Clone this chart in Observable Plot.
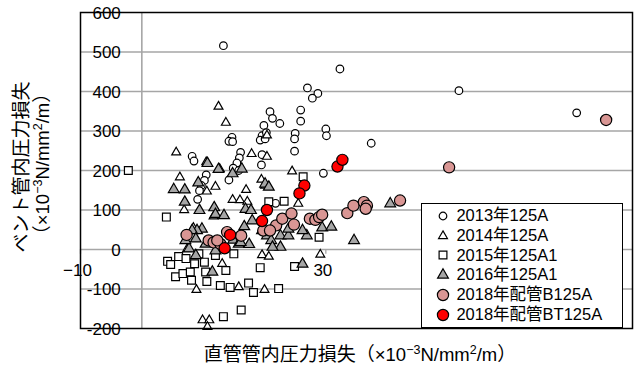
<!DOCTYPE html>
<html>
<head>
<meta charset="utf-8">
<script src="https://cdn.jsdelivr.net/npm/d3@7"></script>
<script src="https://cdn.jsdelivr.net/npm/@observablehq/plot@0.6"></script>
<style>
  body { margin: 0; background: #fff; }
  #chart { width: 637px; height: 367px; position: relative; }
  .legend {
    position: absolute; left: 421.4px; top: 203.4px; width: 201.7px; height: 124.7px;
    box-sizing: border-box; border: 1.2px solid #000; background: #fff;
  }
  .legend-row {
    position: absolute; left: 0; height: 19.7px; line-height: 19.7px; white-space: nowrap;
    font-family: 'Liberation Sans', 'Noto Sans CJK JP', sans-serif; font-size: 16.5px; color: #000;
  }
  .legend-row svg { position: absolute; left: 12.6px; top: 1.85px; overflow: visible; }
  .legend-row .label { position: absolute; left: 34px; top: 0; height: 19.7px; overflow: visible; }
</style>
</head>
<body>
<div id="chart"></div>
<script>
// Measured pressure loss: straight pipe (x) vs. vent pipe (y), ×10^-3 N/mm²/m
const s2013 = [[13.3,516],[32.3,457],[51.7,402],[70.9,346],[27.0,409],[28.7,395],[27.8,383],[20.9,349],[25.9,353],[21.3,332],[22.5,319],[19.9,314],[25.9,325],[30.0,305],[30.1,288],[25.0,294],[24.9,280],[24.9,249],[37.4,269],[19.6,288],[19.3,277],[20.1,280],[20.3,296],[19.6,240],[19.5,214],[14.7,284],[14.2,274],[14.8,273],[16.1,246],[15.9,232],[15.5,219],[14.9,206],[15.8,200],[8.2,236],[8.5,224],[10.5,189],[10.2,175],[9.7,162],[9.4,149],[9.1,127],[14.2,176],[29.6,193],[21.8,117]];
const s2014 = [[12.5,362],[13.7,321],[5.6,246],[10.5,221],[17.9,242],[20.4,235],[12.7,204],[6.2,183],[12.0,159],[10.6,147],[17.0,151],[19.5,177],[20.1,162],[14.8,126],[16.0,125],[17.2,121],[6.9,100],[11.7,84],[24.5,198],[25.5,116],[29.1,-13],[8.9,-102],[9.9,-179],[11.0,-179],[10.7,-196],[20.0,-102],[15.8,-95],[13.1,-36],[19.6,-14],[20.7,-18],[7.4,2],[8.4,55],[20.4,289]];
const s2015 = [[-2.2,200],[4.0,82],[4.2,-30],[4.7,-38],[6.0,-18],[7.2,-23],[5.5,-69],[6.7,-61],[7.9,-57],[8.1,-78],[8.6,-36],[10.2,-32],[10.4,-57],[10.6,-81],[12.8,-91],[13.7,-53],[14.4,-96],[17.4,-85],[18.2,-109],[22.3,-99],[19.3,-46],[24.9,-43],[13.3,-170],[16.2,-153],[20.7,121],[23.2,122],[26.3,184],[28.9,31],[9.3,-11],[12.0,-15],[15.0,-11]];
const s2016 = [[9.2,169],[5.2,152],[7.0,151],[7.0,120],[9.4,99],[11.8,106],[12.0,89],[13.4,86],[10.7,218],[12.5,203],[16.3,204],[14.8,192],[16.9,102],[17.8,99],[20.1,166],[20.7,158],[9.8,52],[9.0,48],[8.2,48],[8.8,27],[10.4,14],[7.7,2],[8.8,-15],[12.0,-3],[14.9,24],[15.8,14],[16.7,58],[18.0,73],[17.5,13],[19.6,48],[20.4,35],[21.1,23],[22.6,35],[23.9,35],[22.6,6],[21.3,6],[29.4,55],[30.9,57],[26.9,35],[26.2,-37],[26.2,48],[11.5,-57],[23.9,52],[40.5,116],[34.6,23],[7.1,23],[16.1,18]];
const s2018B = [[7.3,37],[10.9,23],[11.7,18],[12.8,14],[13.9,44],[16.2,35],[19.8,48],[21.9,61],[22.9,78],[24.4,91],[24.8,63],[27.4,78],[28.3,75],[28.9,82],[29.4,88],[33.5,92],[34.5,111],[36.2,120],[36.7,111],[36.5,103],[42.1,124],[50.1,208],[75.7,328],[12.3,23],[20.9,48]];
const s2018BT = [[14.4,37],[13.5,3],[20.4,100],[19.6,72],[26.5,162],[25.7,142],[31.9,210],[32.7,227]];

const seriesNames = ["2013年125A", "2014年125A", "2015年125A1", "2016年125A1", "2018年配管B125A", "2018年配管BT125A"];

const xTickValues = [-10, 30, 70];
const xTickLabels = ["−10", "30", "70"];
const yTickValues = [-200, -100, 0, 100, 200, 300, 400, 500, 600];
const yTickLabels = ["-200", "-100", "0", "100", "200", "300", "400", "500", "600"];
const yGridValues = [-100, 0, 100, 200, 300, 400, 500];

const xTitle = ["直管管内圧力損失（×10", ["−3"], "N/mm", ["2"], "/m）"];
const yTitle1 = ["ベント管内圧力損失"];
const yTitle2 = ["（×10", ["−3"], "N/mm", ["2"], "/m）"];

// marker style per series
const series = [
  {name: seriesNames[0], data: s2013,   symbol: "circle",   fill: "#ffffff", r: 3.8},
  {name: seriesNames[1], data: s2014,   symbol: "triangle", fill: "#ffffff", r: 3.3},
  {name: seriesNames[2], data: s2015,   symbol: "square",   fill: "#ffffff", r: 4.4},
  {name: seriesNames[3], data: s2016,   symbol: "triangle", fill: "#a6a6a6", r: 4.0},
  {name: seriesNames[4], data: s2018B,  symbol: "circle",   fill: "#d99694", r: 5.6},
  {name: seriesNames[5], data: s2018BT, symbol: "circle",   fill: "#ff0000", r: 5.6}
];

const latin = "'Liberation Sans', Arial, sans-serif";
const cjk = "'Noto Sans CJK JP', sans-serif";

const plot = Plot.plot({
  width: 637,
  height: 367,
  marginLeft: 80,
  marginRight: 5,
  marginTop: 12,
  marginBottom: 39,
  x: {domain: [-10, 80], axis: null},
  y: {domain: [-200, 600], axis: null},
  style: {fontFamily: latin, fontSize: "17px", background: "#ffffff", color: "#000"},
  marks: [
    Plot.ruleY(yGridValues, {stroke: "#a6a6a6", strokeWidth: 1.3}),
    Plot.ruleX([0], {stroke: "#a6a6a6", strokeWidth: 1.6}),
    Plot.ruleX(xTickValues, {y1: 0, y2: -12, stroke: "#a6a6a6", strokeWidth: 1.3}),
    Plot.text(yTickValues, {x: 0, y: d => d, text: (d, i) => yTickLabels[i], textAnchor: "end", dx: -21, dy: 1, fill: "#000"}),
    Plot.text(xTickValues, {x: d => d, y: 0, text: (d, i) => xTickLabels[i], dx: -3, dy: 21, fill: "#000"}),
    ...series.map(s => Plot.dot(s.data, {
      x: d => d[0], y: d => d[1], symbol: s.symbol, r: s.r,
      fill: s.fill, stroke: "#000", strokeWidth: 1.2
    })),
    Plot.frame({stroke: "#000", strokeWidth: 1.5})
  ]
});

const chart = document.getElementById("chart");
chart.appendChild(plot);

const svg = d3.select(plot);
const isCJK = ch => /[\u3000-\u30ff\u4e00-\u9fff\uff00-\uffef]/.test(ch);

// write mixed Latin / CJK / superscript text into a <text> element
function richText(textSel, parts, latinSize, cjkSize) {
  let raised = false;
  for (const part of parts) {
    if (Array.isArray(part)) {
      textSel.append("tspan").attr("font-family", latin).attr("font-size", 12.5)
        .attr("dy", -7).text(part[0]);
      raised = true;
      continue;
    }
    const runs = [];
    for (const ch of part) {
      const c = isCJK(ch);
      if (runs.length && runs[runs.length - 1].c === c) runs[runs.length - 1].t += ch;
      else runs.push({c, t: ch});
    }
    for (const run of runs) {
      const t = textSel.append("tspan")
        .attr("font-family", run.c ? cjk : latin)
        .attr("font-size", run.c ? cjkSize : latinSize)
        .text(run.t);
      if (raised) { t.attr("dy", 7); raised = false; }
    }
  }
}

// axis titles
richText(svg.append("text").attr("x", 360).attr("y", 361).attr("text-anchor", "middle").attr("fill", "#000"),
  xTitle, 18.5, 19);
richText(svg.append("text").attr("transform", "translate(28,167) rotate(-90)").attr("text-anchor", "middle").attr("fill", "#000"),
  yTitle1, 18.5, 19);
richText(svg.append("text").attr("transform", "translate(49,164) rotate(-90)").attr("text-anchor", "middle").attr("fill", "#000"),
  yTitle2, 18.5, 19);

// legend box with one row per series
const symbolTypes = {circle: d3.symbolCircle, triangle: d3.symbolTriangle, square: d3.symbolSquare};
const legend = d3.select(chart).append("div").attr("class", "legend");
series.forEach((s, i) => {
  const row = legend.append("div").attr("class", "legend-row")
    .style("top", `${215.7 + i * 19.7 - 204 - 9.85}px`);
  row.append("svg").attr("width", 16).attr("height", 16)
    .append("path")
    .attr("transform", "translate(8,8)")
    .attr("d", d3.symbol(symbolTypes[s.symbol], Math.PI * s.r * s.r)())
    .attr("fill", s.fill).attr("stroke", "#000").attr("stroke-width", 1.2);
  row.append("div").attr("class", "label").text(s.name);
});
</script>
</body>
</html>
